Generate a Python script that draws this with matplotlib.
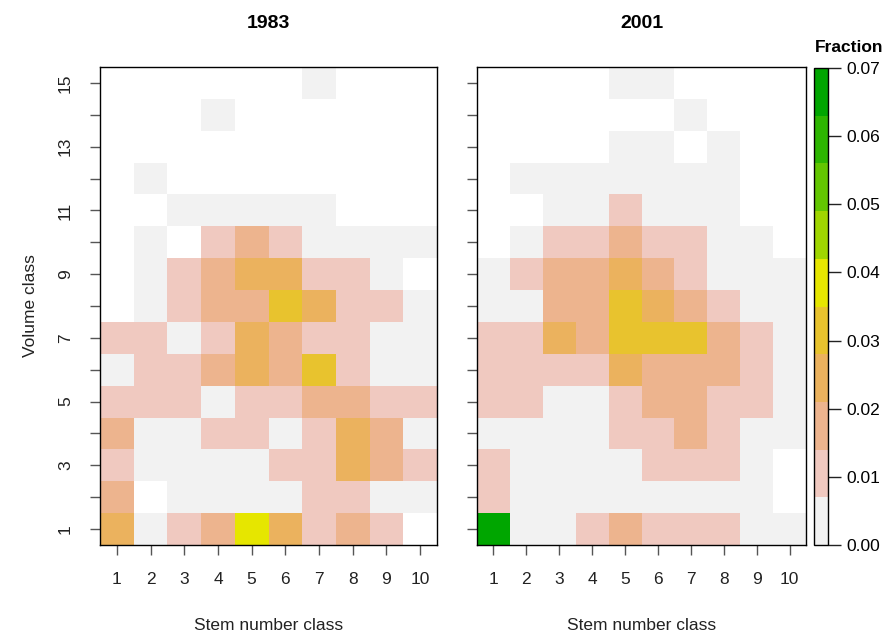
import numpy as np
import matplotlib
matplotlib.use('Agg')
import matplotlib.pyplot as plt
from matplotlib.colors import ListedColormap, BoundaryNorm

plt.rcParams['font.family'] = ['Liberation Sans', 'DejaVu Sans']

# fraction of stems per (volume class, stem number class); nan = empty cell
# rows listed from volume class 15 (top) down to 1, columns stem class 1..10
na = np.nan
frac1983 = [
    [na, na, na, na, na, na, .003, na, na, na],
    [na, na, na, .003, na, na, na, na, na, na],
    [na, na, na, na, na, na, na, na, na, na],
    [na, .003, na, na, na, na, na, na, na, na],
    [na, na, .003, .003, .003, .003, .003, na, na, na],
    [na, .003, na, .010, .017, .010, .003, .003, .003, .003],
    [na, .003, .010, .017, .024, .024, .010, .010, .003, na],
    [na, .003, .010, .017, .017, .031, .024, .010, .010, .003],
    [.010, .010, .003, .010, .024, .017, .010, .010, .003, .003],
    [.003, .010, .010, .017, .024, .017, .031, .010, .003, .003],
    [.010, .010, .010, .003, .010, .010, .017, .017, .010, .010],
    [.017, .003, .003, .010, .010, .003, .010, .024, .017, .003],
    [.010, .003, .003, .003, .003, .010, .010, .024, .017, .010],
    [.017, na, .003, .003, .003, .003, .010, .010, .003, .003],
    [.024, .003, .010, .017, .038, .024, .010, .017, .010, na],
]
frac2001 = [
    [na, na, na, na, .003, .003, na, na, na, na],
    [na, na, na, na, na, na, .003, na, na, na],
    [na, na, na, na, .003, .003, na, .003, na, na],
    [na, .003, .003, .003, .003, .003, .003, .003, na, na],
    [na, na, .003, .003, .010, .003, .003, .003, na, na],
    [na, .003, .010, .010, .017, .010, .010, .003, .003, na],
    [.003, .010, .017, .017, .024, .017, .010, .003, .003, .003],
    [.003, .003, .017, .017, .031, .024, .017, .010, .003, .003],
    [.010, .010, .024, .017, .031, .031, .031, .017, .010, .003],
    [.010, .010, .010, .010, .024, .017, .017, .017, .010, .003],
    [.010, .010, .003, .003, .010, .017, .017, .010, .010, .003],
    [.003, .003, .003, .003, .010, .010, .017, .010, .003, .003],
    [.010, .003, .003, .003, .003, .010, .010, .010, .003, na],
    [.010, .003, .003, .003, .003, .003, .003, .003, .003, na],
    [.066, .003, .003, .010, .017, .010, .010, .010, .003, .003],
]
years = ['1983', '2001']
stem_class = np.arange(1, 11)
vol_class = np.arange(1, 16)

# R terrain.colors(10), reversed
cols = ["#F2F2F2", "#F0C9C0", "#EDB48E", "#EBB25E", "#E8C32E",
        "#E6E600", "#A0D600", "#63C600", "#2DB600", "#00A600"]
cmap = ListedColormap(cols)
cmap.set_bad('white')
bounds = np.linspace(0, 0.07, 11)
norm = BoundaryNorm(bounds, cmap.N)

W, H = 890, 636
fig = plt.figure(figsize=(W/100, H/100), dpi=100)

def px(l, t, w, h):
    return [l/W, (H - t - h)/H, w/W, h/H]

axes = [fig.add_axes(px(100, 67, 337, 478)), fig.add_axes(px(477, 67, 329, 478))]
fs = 12.5
for i, (ax, data) in enumerate(zip(axes, [frac1983, frac2001])):
    z = np.ma.masked_invalid(np.array(data)[::-1])
    xe = np.append(stem_class - 0.5, stem_class[-1] + 0.5)
    ye = np.append(vol_class - 0.5, vol_class[-1] + 0.5)
    ax.pcolormesh(xe, ye, z, cmap=cmap, norm=norm)
    ax.set_xlim(0.5, 10.5)
    ax.set_ylim(0.5, 15.5)
    ax.set_title(years[i], fontsize=14, fontweight='bold', pad=28)
    ax.set_xticks(stem_class)
    ax.set_xticklabels([str(s) for s in stem_class], fontsize=fs, color='#222222')
    ax.set_yticks(vol_class)
    if i == 0:
        ax.set_yticklabels([str(v) if v % 2 == 1 else '' for v in vol_class],
                           fontsize=fs, rotation=90, va='center', color='#222222')
        ax.set_ylabel('Volume class', fontsize=fs, labelpad=14, color='#222222')
    else:
        ax.set_yticklabels([])
    ax.set_xlabel('Stem number class', fontsize=fs, labelpad=22, color='#222222')
    ax.tick_params(length=7.5, width=1, color='#555555', pad=12)
    for s in ax.spines.values():
        s.set_linewidth(1)
        s.set_color('black')

cax = fig.add_axes(px(814, 68, 14, 477))
cb = fig.colorbar(plt.cm.ScalarMappable(norm=norm, cmap=cmap), cax=cax,
                  boundaries=bounds, ticks=np.arange(0, 0.071, 0.01))
cb.minorticks_off()
cb.ax.set_yticklabels(['%.2f' % t for t in np.arange(0, 0.071, 0.01)])
cb.ax.tick_params(length=9, width=1, color='#222222', labelsize=fs, pad=4)
cb.outline.set_linewidth(1)
cb.outline.set_edgecolor('black')
fig.text(849/W, 1 - 47/H, 'Fraction', ha='center', va='center',
         fontsize=12.5, fontweight='bold')

fig.savefig('out.png', dpi=100)
